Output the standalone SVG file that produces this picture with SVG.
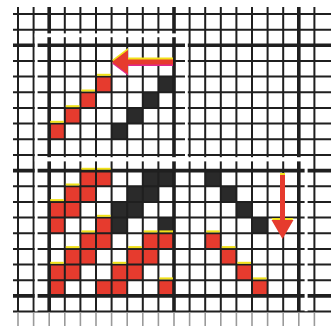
<svg xmlns="http://www.w3.org/2000/svg" width="331" height="326" viewBox="0 0 331 326">
<style>
.ln{stroke:#1f1f1f;stroke-width:2;fill:none}
.tk{stroke:#1f1f1f;stroke-width:3.6;fill:none}
.lt{stroke:#9a9a9a;stroke-width:1.6;fill:none}
.r{fill:#e63b2e}
.b{fill:#2a2a2a}
.y{fill:#f2e21a}
.bd{fill:#ffffff}
</style>
<rect x="0" y="0" width="331" height="326" fill="#ffffff"/>

<g id="panel-top-left-cells">
<rect class="r" x="49.2" y="123.6" width="15.6" height="15.7"/>
<rect class="r" x="64.8" y="108" width="15.6" height="15.7"/>
<rect class="r" x="80.4" y="92.3" width="15.6" height="15.7"/>
<rect class="r" x="96" y="76.6" width="15.6" height="15.7"/>
<rect class="b" x="111.6" y="123.6" width="15.6" height="15.7"/>
<rect class="b" x="127.2" y="108" width="15.6" height="15.7"/>
<rect class="b" x="142.8" y="92.3" width="15.6" height="15.7"/>
<rect class="b" x="158.4" y="76.6" width="15.6" height="15.7"/>
</g>

<g id="panel-bottom-left-cells">
<rect class="r" x="80.4" y="170.6" width="15.6" height="15.7"/>
<rect class="r" x="96" y="170.6" width="15.6" height="15.7"/>
<rect class="r" x="64.8" y="186.3" width="15.6" height="15.7"/>
<rect class="r" x="80.4" y="186.3" width="15.6" height="15.7"/>
<rect class="r" x="49.2" y="201.9" width="15.6" height="15.7"/>
<rect class="r" x="64.8" y="201.9" width="15.6" height="15.7"/>
<rect class="r" x="49.2" y="217.6" width="15.6" height="15.7"/>
<rect class="r" x="96" y="217.6" width="15.6" height="15.7"/>
<rect class="r" x="80.4" y="233.2" width="15.6" height="15.7"/>
<rect class="r" x="96" y="233.2" width="15.6" height="15.7"/>
<rect class="r" x="64.8" y="248.9" width="15.6" height="15.7"/>
<rect class="r" x="80.4" y="248.9" width="15.6" height="15.7"/>
<rect class="r" x="49.2" y="264.6" width="15.6" height="15.7"/>
<rect class="r" x="64.8" y="264.6" width="15.6" height="15.7"/>
<rect class="r" x="49.2" y="280.2" width="15.6" height="15.7"/>
<rect class="r" x="96" y="280.2" width="15.6" height="15.7"/>
<rect class="r" x="142.8" y="233.2" width="15.6" height="15.7"/>
<rect class="r" x="158.4" y="233.2" width="15.6" height="15.7"/>
<rect class="r" x="127.2" y="248.9" width="15.6" height="15.7"/>
<rect class="r" x="142.8" y="248.9" width="15.6" height="15.7"/>
<rect class="r" x="111.6" y="264.6" width="15.6" height="15.7"/>
<rect class="r" x="127.2" y="264.6" width="15.6" height="15.7"/>
<rect class="r" x="111.6" y="280.2" width="15.6" height="15.7"/>
<rect class="r" x="158.4" y="280.2" width="15.6" height="15.7"/>
<rect class="b" x="142.8" y="170.6" width="15.6" height="15.7"/>
<rect class="b" x="158.4" y="170.6" width="15.6" height="15.7"/>
<rect class="b" x="127.2" y="186.3" width="15.6" height="15.7"/>
<rect class="b" x="142.8" y="186.3" width="15.6" height="15.7"/>
<rect class="b" x="111.6" y="201.9" width="15.6" height="15.7"/>
<rect class="b" x="127.2" y="201.9" width="15.6" height="15.7"/>
<rect class="b" x="111.6" y="217.6" width="15.6" height="15.7"/>
<rect class="b" x="158.4" y="217.6" width="15.6" height="15.7"/>
</g>

<g id="panel-bottom-right-cells">
<rect class="b" x="205.2" y="170.6" width="15.6" height="15.7"/>
<rect class="b" x="220.8" y="186.3" width="15.6" height="15.7"/>
<rect class="b" x="236.4" y="201.9" width="15.6" height="15.7"/>
<rect class="b" x="252" y="217.6" width="15.6" height="15.7"/>
<rect class="r" x="205.2" y="233.2" width="15.6" height="15.7"/>
<rect class="r" x="220.8" y="248.9" width="15.6" height="15.7"/>
<rect class="r" x="236.4" y="264.6" width="15.6" height="15.7"/>
<rect class="r" x="252" y="280.2" width="15.6" height="15.7"/>
</g>

<g id="grid">
<path class="ln" d="M18 7V311.5M33.6 7V311.5M64.8 7V311.5M80.4 7V311.5M96 7V311.5M111.6 7V311.5M127.2 7V311.5M142.8 7V311.5M158.4 7V311.5M189.6 7V311.5M205.2 7V311.5M220.8 7V311.5M236.4 7V311.5M252 7V311.5M267.6 7V311.5M283.2 7V311.5M314.4 7V311.5"/>
<path class="tk" d="M49.2 7V311.5M174 7V311.5M298.8 7V311.5"/>
<path class="ln" d="M13 14H331M13 29.7H331M13 61H331M13 76.6H331M13 92.3H331M13 108H331M13 123.6H331M13 139.3H331M13 154.9H331M13 186.3H331M13 201.9H331M13 217.6H331M13 233.2H331M13 248.9H331M13 264.6H331M13 280.2H331M13 311.5H331"/>
<path class="tk" d="M13 45.3H331M13 170.6H331M13 295.9H331"/>
<path class="lt" d="M18 312.5V326M33.6 312.5V326M49.2 312.5V326M64.8 312.5V326M80.4 312.5V326M96 312.5V326M111.6 312.5V326M127.2 312.5V326M142.8 312.5V326M158.4 312.5V326M174 312.5V326M189.6 312.5V326M205.2 312.5V326M220.8 312.5V326M236.4 312.5V326M252 312.5V326M267.6 312.5V326M283.2 312.5V326M298.8 312.5V326M314.4 312.5V326"/>
</g>

<g id="yellow-edges">
<rect class="y" x="50.2" y="120.8" width="13.6" height="2"/>
<rect class="y" x="65.8" y="105.2" width="13.6" height="2"/>
<rect class="y" x="81.4" y="89.5" width="13.6" height="2"/>
<rect class="y" x="97" y="73.8" width="13.6" height="2"/>
<rect class="y" x="81.4" y="167.8" width="13.6" height="2"/>
<rect class="y" x="97" y="167.8" width="13.6" height="2"/>
<rect class="y" x="65.8" y="183.5" width="13.6" height="2"/>
<rect class="y" x="50.2" y="199.1" width="13.6" height="2"/>
<rect class="y" x="97" y="214.8" width="13.6" height="2"/>
<rect class="y" x="81.4" y="230.4" width="13.6" height="2"/>
<rect class="y" x="65.8" y="246.1" width="13.6" height="2"/>
<rect class="y" x="50.2" y="261.8" width="13.6" height="2"/>
<rect class="y" x="143.8" y="230.4" width="13.6" height="2"/>
<rect class="y" x="159.4" y="230.4" width="13.6" height="2"/>
<rect class="y" x="128.2" y="246.1" width="13.6" height="2"/>
<rect class="y" x="112.6" y="261.8" width="13.6" height="2"/>
<rect class="y" x="159.4" y="277.4" width="13.6" height="2"/>
<rect class="y" x="206.2" y="230.4" width="13.6" height="2"/>
<rect class="y" x="221.8" y="246.1" width="13.6" height="2"/>
<rect class="y" x="237.4" y="261.8" width="13.6" height="2"/>
<rect class="y" x="253" y="277.4" width="13.6" height="2"/>
</g>

<g id="panel-borders">
<rect class="bd" x="34.8" y="33.4" width="153" height="3.8"/>
<rect class="bd" x="34.8" y="33.4" width="2.8" height="278"/>
<rect class="bd" x="185" y="33.4" width="2.8" height="127"/>
<rect class="bd" x="34.8" y="157.2" width="273" height="4.2"/>
<rect class="bd" x="304.6" y="157.2" width="3" height="154"/>
</g>

<g id="arrows">
<g id="arrow-left">
<polygon fill="#f2e21a" transform="translate(0,-2)" points="112,62 128,50 128,59.5 173,59.5 173,64.5 128,64.5 128,74"/>
<polygon fill="#e0288c" transform="translate(0,1.5)" points="112,62 128,50 128,59.5 173,59.5 173,64.5 128,64.5 128,74"/>
<polygon class="r" points="112,62 128,50 128,59.5 173,59.5 173,64.5 128,64.5 128,74"/>
</g>
<g id="arrow-down">
<polygon fill="#f2e21a" transform="translate(0,-2)" points="280,175 285,175 285,220 293.5,220 282.5,239 271.5,220 280,220"/>
<polygon class="r" points="280,175 285,175 285,220 293.5,220 282.5,239 271.5,220 280,220"/>
</g>
</g>
</svg>
